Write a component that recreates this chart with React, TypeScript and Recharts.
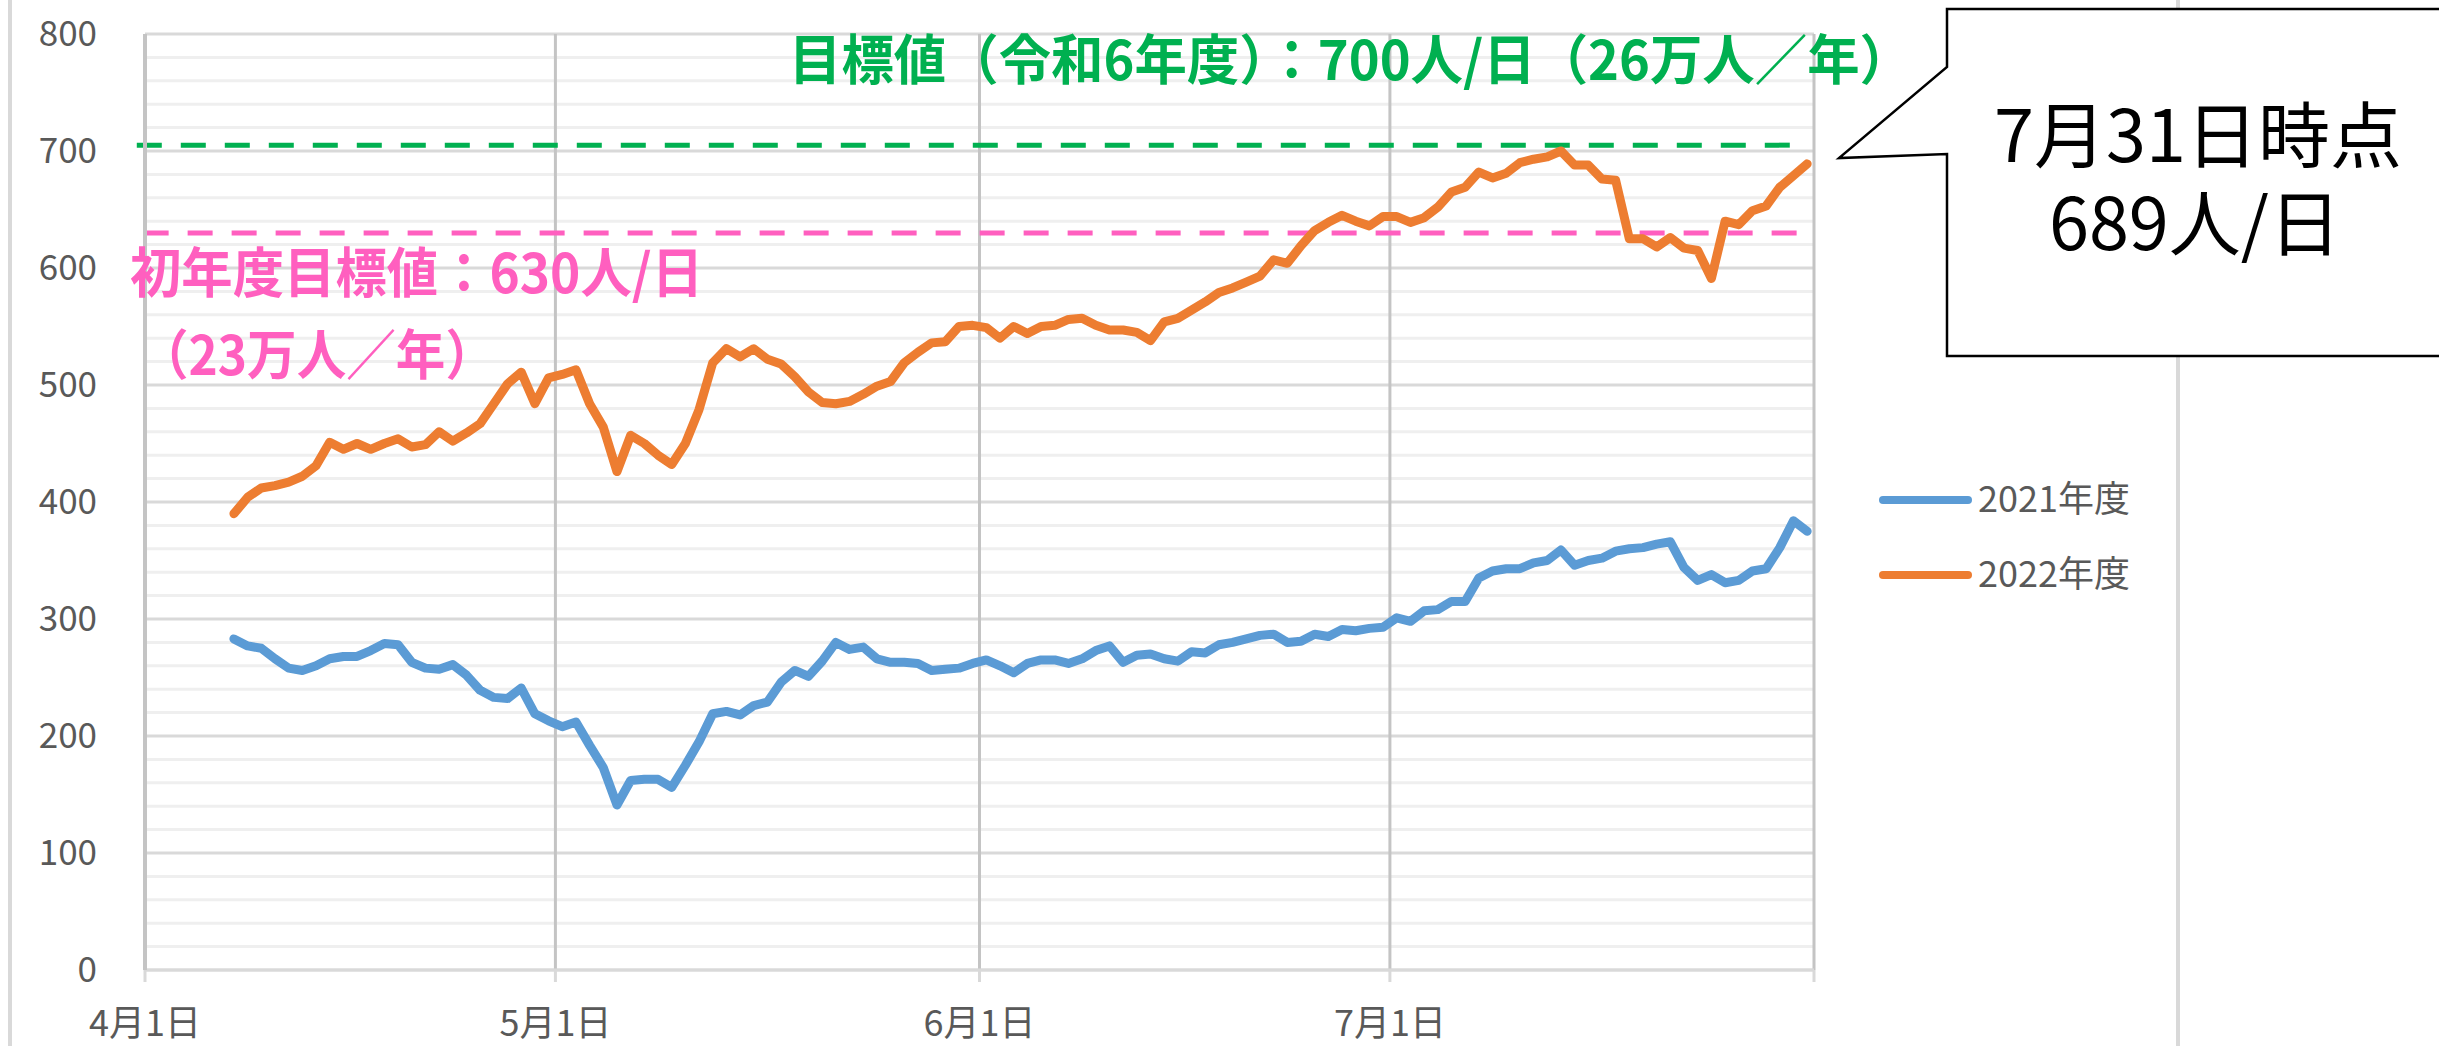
import React from 'react';
import { LineChart, Line, XAxis, YAxis, CartesianGrid, ReferenceLine } from 'recharts';

const W = 2439;
const H = 1046;
const FONT = '"Noto Sans CJK JP", "Noto Sans", sans-serif';

// x axis: days counted from 4月1日 (0), one slot per day
const firstDay = 6; // 4月7日
const monthStarts = [0, 30, 61, 91, 122];
const monthLabels = ['4月1日', '5月1日', '6月1日', '7月1日', ''];

const yTicks = [0, 100, 200, 300, 400, 500, 600, 700, 800];
const minorTicks = Array.from({ length: 41 }, (_, i) => i * 20).filter((v) => v % 100 !== 0);

// 人/日, 4/7 .. 7/31
const fy2021 = [
  283, 277, 275, 266, 258, 256, 260, 266, 268, 268,
  273, 279, 278, 263, 258, 257, 261, 252, 239, 233,
  232, 241, 219, 213, 208, 212, 192, 173, 141, 162,
  163, 163, 156, 175, 195, 219, 221, 218, 226, 229,
  246, 256, 251, 264, 280, 274, 276, 266, 263, 263,
  262, 256, 257, 258, 262, 265, 260, 254, 262, 265,
  265, 262, 266, 273, 277, 263, 269, 270, 266, 264,
  272, 271, 278, 280, 283, 286, 287, 280, 281, 287,
  285, 291, 290, 292, 293, 301, 298, 307, 308, 315,
  315, 335, 341, 343, 343, 348, 350, 359, 346, 350,
  352, 358, 360, 361, 364, 366, 344, 333, 338, 331,
  333, 341, 343, 361, 384, 375,
];

const fy2022 = [
  390, 404, 412, 414, 417, 422, 431, 451, 445, 450,
  445, 450, 454, 447, 449, 460, 452, 459, 467, 484,
  501, 511, 484, 506, 509, 513, 484, 464, 426, 457,
  450, 440, 432, 450, 479, 519, 531, 524, 531, 522,
  518, 507, 494, 485, 484, 486, 492, 499, 503, 519,
  528, 536, 537, 550, 551, 549, 540, 550, 544, 550,
  551, 556, 557, 551, 547, 547, 545, 538, 554, 557,
  564, 571, 579, 583, 588, 593, 607, 604, 619, 632,
  639, 645, 640, 636, 644, 644, 639, 643, 652, 665,
  669, 682, 677, 681, 690, 693, 695, 700, 688, 688,
  676, 675, 625, 625, 618, 626, 617, 615, 591, 640,
  637, 649, 653, 669, 679, 689,
];

const series = [
  { key: 'fy2021', name: '2021年度', color: '#5b9bd5' },
  { key: 'fy2022', name: '2022年度', color: '#ed7d31' },
];

// target lines (drawn shapes in the original)
const goalLevel = 705;
const firstYearLevel = 630;

const rows = fy2021.map((v, i) => ({
  x: firstDay + i + 0.5,
  fy2021: v,
  fy2022: fy2022[i],
}));

export default function App() {
  return (
    <div
      style={{
        position: 'absolute',
        left: 0,
        top: 0,
        width: W,
        height: H,
        overflow: 'hidden',
        background: '#fff',
        fontFamily: FONT,
      }}
    >
      <svg width={W} height={H} style={{ position: 'absolute', left: 0, top: 0 }}>
        <line x1={10} x2={10} y1={0} y2={H} stroke="#d9d9d9" strokeWidth={4} />
        <line x1={2178} x2={2178} y1={0} y2={H} stroke="#d9d9d9" strokeWidth={4} />
      </svg>

      <div style={{ position: 'absolute', left: 0, top: 0 }}>
        <LineChart width={W} height={H} data={rows} margin={{ top: 34, right: W - 1814, bottom: 0, left: 0 }}>
          <CartesianGrid horizontalValues={minorTicks} vertical={false} stroke="#efefef" strokeWidth={3} />
          <CartesianGrid horizontalValues={yTicks} vertical={false} stroke="#d9d9d9" strokeWidth={3} />
          <CartesianGrid horizontal={false} stroke="#c4c4c4" strokeWidth={3} />
          <XAxis
            type="number"
            dataKey="x"
            domain={[0, 122]}
            ticks={monthStarts}
            interval={0}
            tickFormatter={(v) => monthLabels[monthStarts.indexOf(v)] ?? ''}
            height={76}
            tickSize={12}
            tickMargin={28}
            stroke="#d9d9d9"
            strokeWidth={3}
            tick={{ fill: '#595959', fontSize: 36, fontFamily: FONT }}
          />
          <YAxis
            type="number"
            domain={[0, 800]}
            ticks={yTicks}
            interval={0}
            width={145}
            tickSize={0}
            tickMargin={48}
            tickLine={false}
            axisLine={{ stroke: '#c4c4c4', strokeWidth: 4 }}
            tick={{ fill: '#595959', fontSize: 35, fontFamily: FONT }}
          />
          <ReferenceLine
            segment={[{ x: -0.6, y: goalLevel }, { x: 120.3, y: goalLevel }]}
            ifOverflow="visible"
            stroke="#00b050"
            strokeWidth={5}
            strokeDasharray="25 19"
          />
          <ReferenceLine
            segment={[{ x: -0.1, y: firstYearLevel }, { x: 120.75, y: firstYearLevel }]}
            ifOverflow="visible"
            stroke="#ff5fbf"
            strokeWidth={5}
            strokeDasharray="25 19"
          />
          {series.map((s) => (
            <Line
              key={s.key}
              type="linear"
              dataKey={s.key}
              name={s.name}
              stroke={s.color}
              strokeWidth={9}
              strokeLinejoin="round"
              strokeLinecap="round"
              dot={false}
              activeDot={false}
              isAnimationActive={false}
            />
          ))}
        </LineChart>
      </div>

      <svg width={W} height={H} style={{ position: 'absolute', left: 0, top: 0, pointerEvents: 'none' }}>
        {/* target labels */}
        <text x={789} y={80} fontSize={54} fontWeight={700} fill="#00b050" textLength={1123} lengthAdjust="spacingAndGlyphs">
          目標値（令和6年度）：700人/日（26万人／年）
        </text>
        <text x={130} y={293} fontSize={54} fontWeight={700} fill="#ff5fbf" textLength={573} lengthAdjust="spacingAndGlyphs">
          初年度目標値：630人/日
        </text>
        <text x={139} y={375} fontSize={54} fontWeight={700} fill="#ff5fbf" textLength={356} lengthAdjust="spacingAndGlyphs">
          （23万人／年）
        </text>

        {/* legend */}
        {series.map((s, i) => (
          <g key={s.key}>
            <line x1={1883} x2={1968} y1={500 + i * 75} y2={500 + i * 75} stroke={s.color} strokeWidth={8} strokeLinecap="round" />
            <text x={1978} y={512 + i * 75} fontSize={36} fill="#595959">
              {s.name}
            </text>
          </g>
        ))}

        {/* callout */}
        <path
          d="M 1947 9 L 2450 9 L 2450 356 L 1947 356 L 1947 154 L 1839 158 L 1947 67 Z"
          fill="#fff"
          stroke="#000"
          strokeWidth={2.5}
        />
        <text x={2198} y={162} fontSize={72} fill="#000" textAnchor="middle">
          7月31日時点
        </text>
        <text x={2195} y={250} fontSize={72} fill="#000" textAnchor="middle">
          689人/日
        </text>
      </svg>
    </div>
  );
}
